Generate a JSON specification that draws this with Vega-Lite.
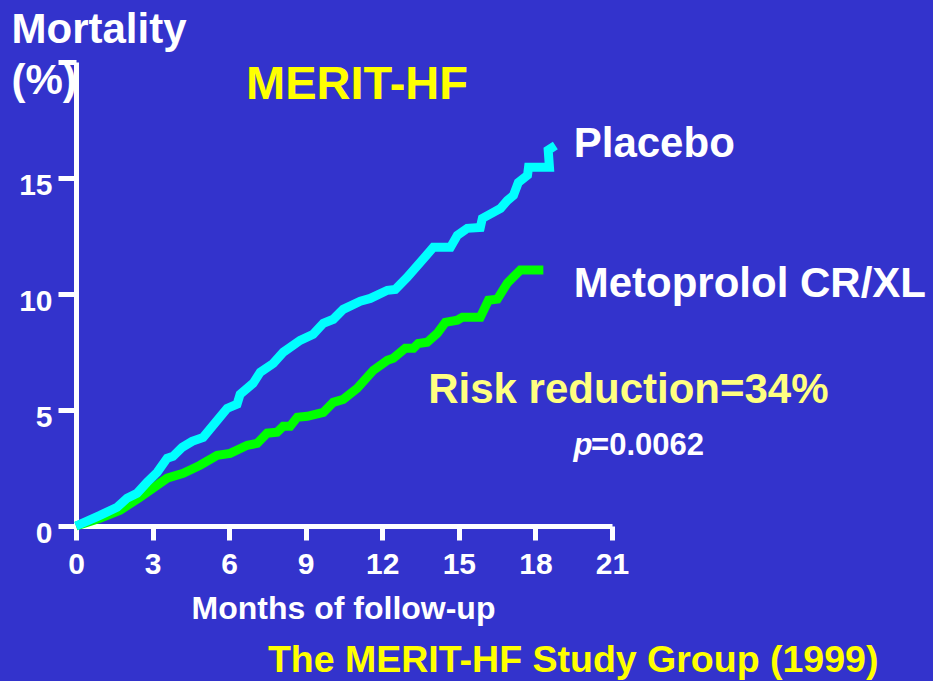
{
  "$schema": "https://vega.github.io/schema/vega-lite/v6.json",
  "autosize": {"type": "none"},
  "width": 536,
  "height": 464,
  "padding": {"left": 76, "top": 62, "right": 321, "bottom": 155},
  "background": "#3333CC",
  "config": {"view": {"stroke": null}, "font": "Liberation Sans"},
  "datasets": {
    "curves": [
      {"group": "Metoprolol CR/XL", "month": 0, "pct": 0},
      {"group": "Metoprolol CR/XL", "month": 0.94, "pct": 0.33},
      {"group": "Metoprolol CR/XL", "month": 1.73, "pct": 0.68},
      {"group": "Metoprolol CR/XL", "month": 2.51, "pct": 1.24},
      {"group": "Metoprolol CR/XL", "month": 3.57, "pct": 2.06},
      {"group": "Metoprolol CR/XL", "month": 4.2, "pct": 2.27},
      {"group": "Metoprolol CR/XL", "month": 4.86, "pct": 2.62},
      {"group": "Metoprolol CR/XL", "month": 5.53, "pct": 3.05},
      {"group": "Metoprolol CR/XL", "month": 6.04, "pct": 3.13},
      {"group": "Metoprolol CR/XL", "month": 6.71, "pct": 3.48},
      {"group": "Metoprolol CR/XL", "month": 7.1, "pct": 3.56},
      {"group": "Metoprolol CR/XL", "month": 7.49, "pct": 4.0},
      {"group": "Metoprolol CR/XL", "month": 7.88, "pct": 4.04},
      {"group": "Metoprolol CR/XL", "month": 8.12, "pct": 4.3},
      {"group": "Metoprolol CR/XL", "month": 8.39, "pct": 4.3},
      {"group": "Metoprolol CR/XL", "month": 8.67, "pct": 4.69},
      {"group": "Metoprolol CR/XL", "month": 9.06, "pct": 4.73},
      {"group": "Metoprolol CR/XL", "month": 9.69, "pct": 4.9},
      {"group": "Metoprolol CR/XL", "month": 10.08, "pct": 5.33},
      {"group": "Metoprolol CR/XL", "month": 10.47, "pct": 5.46},
      {"group": "Metoprolol CR/XL", "month": 11.02, "pct": 5.94},
      {"group": "Metoprolol CR/XL", "month": 11.65, "pct": 6.71},
      {"group": "Metoprolol CR/XL", "month": 12.2, "pct": 7.14},
      {"group": "Metoprolol CR/XL", "month": 12.43, "pct": 7.23},
      {"group": "Metoprolol CR/XL", "month": 12.9, "pct": 7.66},
      {"group": "Metoprolol CR/XL", "month": 13.22, "pct": 7.66},
      {"group": "Metoprolol CR/XL", "month": 13.41, "pct": 7.87},
      {"group": "Metoprolol CR/XL", "month": 13.76, "pct": 7.92},
      {"group": "Metoprolol CR/XL", "month": 14.16, "pct": 8.31},
      {"group": "Metoprolol CR/XL", "month": 14.47, "pct": 8.78},
      {"group": "Metoprolol CR/XL", "month": 14.94, "pct": 8.87},
      {"group": "Metoprolol CR/XL", "month": 15.14, "pct": 9.0},
      {"group": "Metoprolol CR/XL", "month": 15.84, "pct": 9.0},
      {"group": "Metoprolol CR/XL", "month": 16.16, "pct": 9.73},
      {"group": "Metoprolol CR/XL", "month": 16.51, "pct": 9.78},
      {"group": "Metoprolol CR/XL", "month": 16.9, "pct": 10.47},
      {"group": "Metoprolol CR/XL", "month": 17.41, "pct": 11.03},
      {"group": "Metoprolol CR/XL", "month": 18.31, "pct": 11.03},
      {"group": "Placebo", "month": 0, "pct": 0},
      {"group": "Placebo", "month": 0.94, "pct": 0.46},
      {"group": "Placebo", "month": 1.61, "pct": 0.81},
      {"group": "Placebo", "month": 2.0, "pct": 1.2},
      {"group": "Placebo", "month": 2.39, "pct": 1.41},
      {"group": "Placebo", "month": 2.78, "pct": 1.88},
      {"group": "Placebo", "month": 3.18, "pct": 2.31},
      {"group": "Placebo", "month": 3.57, "pct": 2.92},
      {"group": "Placebo", "month": 3.8, "pct": 3.0},
      {"group": "Placebo", "month": 4.16, "pct": 3.39},
      {"group": "Placebo", "month": 4.55, "pct": 3.65},
      {"group": "Placebo", "month": 4.98, "pct": 3.82},
      {"group": "Placebo", "month": 5.37, "pct": 4.34},
      {"group": "Placebo", "month": 5.92, "pct": 5.07},
      {"group": "Placebo", "month": 6.31, "pct": 5.25},
      {"group": "Placebo", "month": 6.43, "pct": 5.68},
      {"group": "Placebo", "month": 6.94, "pct": 6.15},
      {"group": "Placebo", "month": 7.22, "pct": 6.63},
      {"group": "Placebo", "month": 7.73, "pct": 7.01},
      {"group": "Placebo", "month": 8.12, "pct": 7.49},
      {"group": "Placebo", "month": 8.78, "pct": 8.0},
      {"group": "Placebo", "month": 9.29, "pct": 8.26},
      {"group": "Placebo", "month": 9.69, "pct": 8.74},
      {"group": "Placebo", "month": 10.08, "pct": 8.91},
      {"group": "Placebo", "month": 10.47, "pct": 9.34},
      {"group": "Placebo", "month": 11.14, "pct": 9.69},
      {"group": "Placebo", "month": 11.53, "pct": 9.81},
      {"group": "Placebo", "month": 12.2, "pct": 10.16},
      {"group": "Placebo", "month": 12.51, "pct": 10.2},
      {"group": "Placebo", "month": 12.98, "pct": 10.72},
      {"group": "Placebo", "month": 14.0, "pct": 12.01},
      {"group": "Placebo", "month": 14.67, "pct": 12.01},
      {"group": "Placebo", "month": 14.94, "pct": 12.53},
      {"group": "Placebo", "month": 15.33, "pct": 12.83},
      {"group": "Placebo", "month": 15.84, "pct": 12.87},
      {"group": "Placebo", "month": 15.92, "pct": 13.26},
      {"group": "Placebo", "month": 16.35, "pct": 13.52},
      {"group": "Placebo", "month": 16.63, "pct": 13.69},
      {"group": "Placebo", "month": 16.9, "pct": 14.03},
      {"group": "Placebo", "month": 17.14, "pct": 14.25},
      {"group": "Placebo", "month": 17.33, "pct": 14.81},
      {"group": "Placebo", "month": 17.69, "pct": 15.12},
      {"group": "Placebo", "month": 17.73, "pct": 15.46},
      {"group": "Placebo", "month": 18.55, "pct": 15.46},
      {"group": "Placebo", "month": 18.5, "pct": 16.2},
      {"group": "Placebo", "month": 18.78, "pct": 16.4}
    ],
    "labels": [
      {"label": "Placebo", "month": 19.5, "pct": 15.89},
      {"label": "Metoprolol CR/XL", "month": 19.5, "pct": 9.86}
    ]
  },
  "encoding": {
    "x": {
      "field": "month", "type": "quantitative",
      "scale": {"domain": [0, 21], "nice": false, "zero": false},
      "axis": {
        "title": "Months of follow-up",
        "values": [0, 3, 6, 9, 12, 15, 18, 21],
        "grid": false,
        "domainColor": "white", "domainWidth": 5,
        "tickColor": "white", "tickWidth": 5, "tickSize": 14,
        "labelColor": "white", "labelFontSize": 30, "labelFontWeight": "bold",
        "labelPadding": 9, "labelFlush": false, "labelOverlap": false, "labelBound": false,
        "titleColor": "white", "titleFontSize": 32, "titleFontWeight": "bold",
        "titleX": 267, "titleY": 92, "titleBaseline": "alphabetic", "titleAlign": "center"
      }
    },
    "y": {
      "field": "pct", "type": "quantitative",
      "scale": {"domain": [0, 20], "nice": false, "zero": false},
      "axis": {
        "title": ["Mortality", "(%)"],
        "values": [0, 5, 10, 15, 20],
        "labelExpr": "datum.value == 20 ? '' : datum.label",
        "grid": false,
        "domainColor": "white", "domainWidth": 5,
        "tickColor": "white", "tickWidth": 5, "tickSize": 18,
        "labelColor": "white", "labelFontSize": 30, "labelFontWeight": "bold",
        "labelPadding": 6, "labelOffset": 7, "labelFlush": false, "labelOverlap": false, "labelBound": false,
        "titleColor": "white", "titleFontSize": 42, "titleFontWeight": "bold",
        "titleAngle": 0, "titleAlign": "left", "titleBaseline": "alphabetic",
        "titleX": -65, "titleY": -20, "titleLineHeight": 51
      }
    }
  },
  "layer": [
    {
      "data": {"name": "curves"},
      "transform": [{"filter": "datum.group == 'Metoprolol CR/XL'"}],
      "mark": {"type": "line", "color": "#00FF00", "strokeWidth": 9, "clip": false},
      "encoding": {"order": {"value": null}}
    },
    {
      "data": {"name": "curves"},
      "transform": [{"filter": "datum.group == 'Placebo'"}],
      "mark": {"type": "line", "color": "#00FFFF", "strokeWidth": 9, "clip": false},
      "encoding": {"order": {"value": null}}
    },
    {
      "data": {"name": "labels"},
      "mark": {"type": "text", "align": "left", "baseline": "alphabetic", "fontSize": 42, "fontWeight": "bold", "color": "white"},
      "encoding": {"text": {"field": "label"}}
    },
    {
      "data": {"values": [{"label": "Risk reduction=34%", "month": 13.8, "pct": 5.29}]},
      "mark": {"type": "text", "align": "left", "baseline": "alphabetic", "fontSize": 42, "fontWeight": "bold", "color": "#FFFF80"},
      "encoding": {"text": {"field": "label"}}
    },
    {
      "data": {"values": [{"label": "p", "month": 19.49, "pct": 3.05}]},
      "mark": {"type": "text", "align": "left", "baseline": "alphabetic", "fontSize": 31, "fontWeight": "bold", "fontStyle": "italic", "color": "white"},
      "encoding": {"text": {"field": "label"}}
    },
    {
      "data": {"values": [{"label": "=0.0062", "month": 20.18, "pct": 3.05}]},
      "mark": {"type": "text", "align": "left", "baseline": "alphabetic", "fontSize": 31, "fontWeight": "bold", "color": "white"},
      "encoding": {"text": {"field": "label"}}
    },
    {
      "data": {"values": [{"label": "MERIT-HF", "month": 11.01, "pct": 18.4}]},
      "mark": {"type": "text", "align": "center", "baseline": "alphabetic", "fontSize": 47, "fontWeight": "bold", "color": "#FFFF00"},
      "encoding": {"text": {"field": "label"}}
    },
    {
      "data": {"values": [{"label": "The MERIT-HF Study Group (1999)", "month": 7.52, "pct": -6.31}]},
      "mark": {"type": "text", "align": "left", "baseline": "alphabetic", "fontSize": 37.5, "fontWeight": "bold", "color": "#FFFF00"},
      "encoding": {"text": {"field": "label"}}
    }
  ]
}
